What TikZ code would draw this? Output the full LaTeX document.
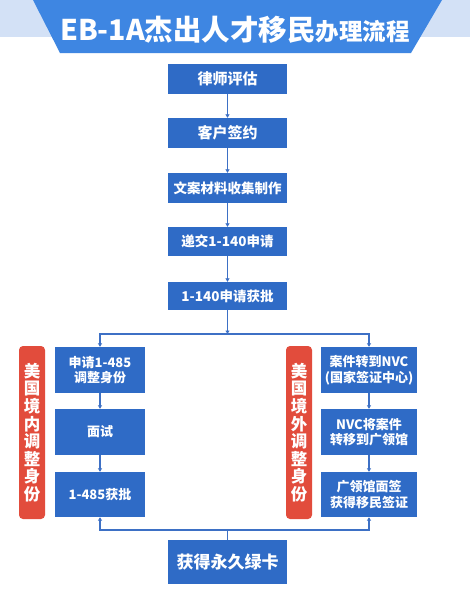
\documentclass[tikz,border=0pt]{standalone}
\usepackage{fontspec}
\setmainfont{Noto Sans CJK SC}
\newfontfamily\cjk{Noto Sans CJK SC}
\usetikzlibrary{arrows.meta}
\definecolor{boxblue}{HTML}{2F6BC6}
\definecolor{lineblue}{HTML}{3D70C5}
\definecolor{redbar}{HTML}{E24C3C}
\definecolor{bannerblue}{HTML}{3E86E2}
\definecolor{bandblue}{HTML}{D3E1F6}
\tikzset{
  flowbox/.style={fill=boxblue, text=white, inner sep=0pt, align=center,
    font=\cjk\bfseries\fontsize{13.5}{16}\selectfont},
  sidebar/.style={fill=redbar, rounded corners=4pt, text=white, inner sep=0pt, align=center,
    font=\cjk\bfseries\fontsize{16.5}{17.6}\selectfont},
  conn/.style={draw=lineblue, line width=1.2pt},
  arr/.style={conn, -{Triangle[length=3.5pt,width=4pt]}},
}
\begin{document}
\begin{tikzpicture}[x=1pt,y=-1pt]
\useasboundingbox (0,0) rectangle (470,600);
\fill[white] (0,0) rectangle (470,600);
% title banner
\fill[bandblue] (0,0) rectangle (470,37);
\fill[bannerblue] (33,0) -- (442,0) -- (411,53) -- (60,53) -- cycle;
\node[text=white, inner sep=0pt, font=\cjk\bfseries] (title) at (235,30)
  {{\fontsize{28.5}{30}\selectfont EB-1A杰出人才移民}{\fontsize{23.5}{30}\selectfont 办理流程}};
% main column
\node[flowbox, minimum width=119pt, minimum height=30pt, font=\cjk\bfseries\fontsize{15}{17}\selectfont] (b1) at (227.5,79) {律师评估};
\node[flowbox, minimum width=119pt, minimum height=30pt, font=\cjk\bfseries\fontsize{15}{17}\selectfont] (b2) at (227.5,133) {客户签约};
\node[flowbox, minimum width=119pt, minimum height=30pt] (b3) at (227.5,188) {文案材料收集制作};
\node[flowbox, minimum width=119pt, minimum height=29pt] (b4) at (227.5,241.5) {递交1-140申请};
\node[flowbox, minimum width=119pt, minimum height=28pt] (b5) at (227.5,296) {1-140申请获批};
% left branch
\node[flowbox, minimum width=90pt, minimum height=46pt, font=\cjk\bfseries\fontsize{13}{15.7}\selectfont] (l1) at (100,370) {申请1-485\\调整身份};
\node[flowbox, minimum width=90pt, minimum height=46pt, font=\cjk\bfseries\fontsize{13}{15.7}\selectfont] (l2) at (100,432) {面试};
\node[flowbox, minimum width=90pt, minimum height=45pt, font=\cjk\bfseries\fontsize{13}{15.7}\selectfont] (l3) at (100,494.5) {1-485获批};
% right branch
\node[flowbox, minimum width=96pt, minimum height=46pt, font=\cjk\bfseries\fontsize{13}{15.7}\selectfont] (r1) at (369,370) {案件转到NVC\\(国家签证中心)};
\node[flowbox, minimum width=96pt, minimum height=46pt, font=\cjk\bfseries\fontsize{13}{15.7}\selectfont] (r2) at (369,432) {NVC将案件\\转移到广领馆};
\node[flowbox, minimum width=96pt, minimum height=45pt, font=\cjk\bfseries\fontsize{13}{15.7}\selectfont] (r3) at (369,494.5) {广领馆面签\\获得移民签证};
% side bars
\node[sidebar, minimum width=26pt, minimum height=173pt] (sl) at (32,432.5) {美\\国\\境\\内\\调\\整\\身\\份};
\node[sidebar, minimum width=26pt, minimum height=173pt] (sr) at (299,432.5) {美\\国\\境\\外\\调\\整\\身\\份};
% final
\node[flowbox, minimum width=119pt, minimum height=44pt, font=\cjk\bfseries\fontsize{17}{19}\selectfont] (fin) at (227.5,562) {获得永久绿卡};
% connectors
\draw[arr] (b1.south) -- (b2.north);
\draw[arr] (b2.south) -- (b3.north);
\draw[arr] (b3.south) -- (b4.north);
\draw[arr] (b4.south) -- (b5.north);
\coordinate (j) at (227.5,334);
\draw[arr] (b5.south) -- (j);
\draw[arr] (j) -| (l1.north);
\draw[arr] (j) -| (r1.north);
\draw[arr] (l1.south) -- (l2.north);
\draw[arr] (l2.south) -- (l3.north);
\draw[arr] (r1.south) -- (r2.north);
\draw[arr] (r2.south) -- (r3.north);
\coordinate (k) at (227.5,530);
\draw[conn] (fin.north) -- (k);
\draw[arr] (k) -| (l3.south);
\draw[arr] (k) -| (r3.south);
\end{tikzpicture}
\end{document}
